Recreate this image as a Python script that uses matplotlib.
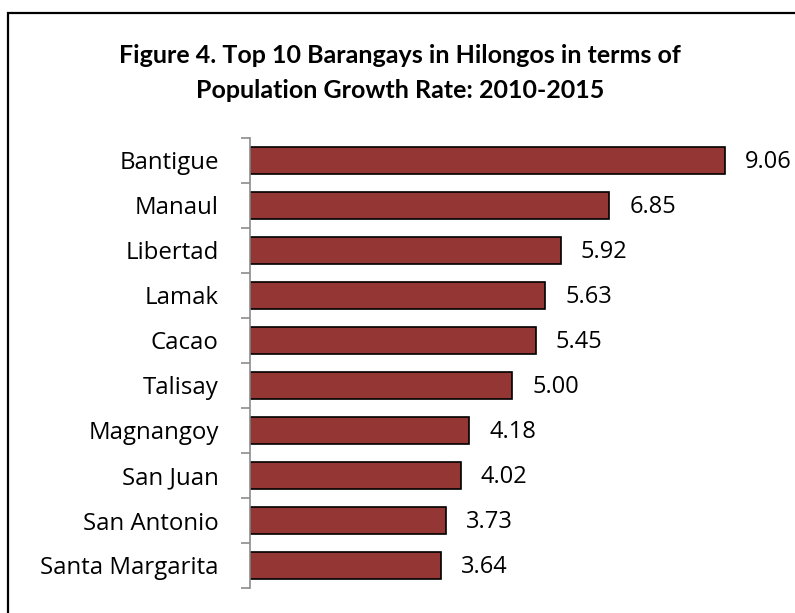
import matplotlib.pyplot as plt
from matplotlib.patches import Rectangle
import numpy as np

barangays = ['Bantigue', 'Manaul', 'Libertad', 'Lamak', 'Cacao', 'Talisay',
             'Magnangoy', 'San Juan', 'San Antonio', 'Santa Margarita']
growth_rate = [9.06, 6.85, 5.92, 5.63, 5.45, 5.00, 4.18, 4.02, 3.73, 3.64]

plt.rcParams['font.family'] = ['Open Sans', 'DejaVu Sans']

W, H = 795, 613
fig = plt.figure(figsize=(W / 100, H / 100), dpi=100)

# chart border (only top and left visible in the crop)
fig.patches.append(Rectangle((8 / W, -0.1), 1.2, (H - 13) / H + 0.1,
                             transform=fig.transFigure, fill=False,
                             edgecolor='black', linewidth=1.6))

ax = fig.add_axes([250 / W, 1 - 588 / H, 524.5 / W, 450 / H])
ypos = np.arange(len(barangays))
ax.barh(ypos, growth_rate, height=0.6, color='#943634', edgecolor='black', linewidth=1.2)
ax.set_xlim(0, 10)
ax.set_ylim(len(barangays) - 0.5, -0.5)

for y, v in zip(ypos, growth_rate):
    ax.text(v + 0.38, y + 0.04, f'{v:.2f}', va='center', ha='left', fontsize=17)

for s in ['top', 'right', 'bottom']:
    ax.spines[s].set_visible(False)
ax.spines['left'].set_color('#8c8c8c')
ax.spines['left'].set_linewidth(1.2)
ax.set_xticks([])
ax.set_yticks(np.arange(-0.5, len(barangays), 1))
ax.set_yticklabels([])
ax.tick_params(axis='y', which='major', length=6.5, color='#8c8c8c', width=1.2)
ax.set_yticks(ypos, minor=True)
ax.set_yticklabels(barangays, minor=True, fontsize=17.3)
ax.tick_params(axis='y', which='minor', length=0, pad=22.5)

fig.text(400 / W, 1 - 73 / H, 'Figure 4. Top 10 Barangays in Hilongos in terms of\nPopulation Growth Rate: 2010-2015',
         ha='center', va='center', fontsize=18, fontweight='bold', linespacing=1.6,
         family=['Lato', 'DejaVu Sans'])

fig.savefig('out.png', dpi=100)
